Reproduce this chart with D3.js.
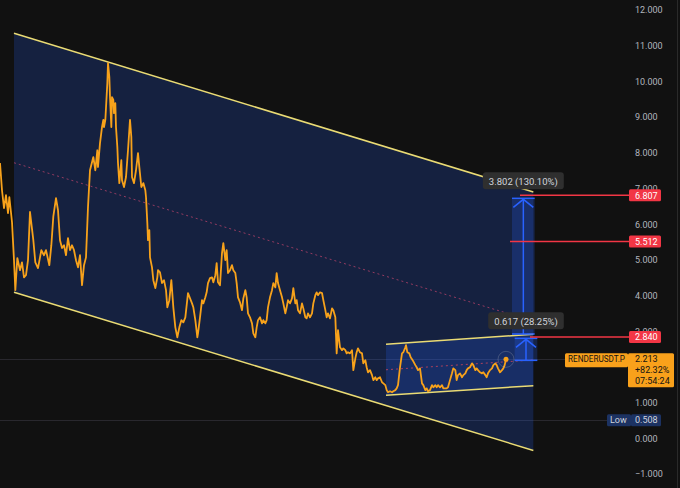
<!DOCTYPE html>
<html>
<head>
<meta charset="utf-8">
<script src="https://cdn.jsdelivr.net/npm/d3@7"></script>
<style>
  html, body { margin: 0; padding: 0; background: #111111; }
  svg { display: block; }
  text { font-family: Roboto, "Noto Sans", sans-serif; }
</style>
</head>
<body>
<div id="chart"></div>
<script>
// RENDERUSDT.P closes, [bar index, price]
const priceSeries = [
  [0,7.71],[3,6.95],[6,6.45],[9,6.81],[12,6.31],[14,6.76],[18,6.06],[21,4.99],[23,4.15],[26,5.05],[30,4.71],[33,4.93],[36,4.51],[39,4.57],[42,4.99],[45,6.34],[50,5.55],[53,4.93],[57,4.77],[62,5.27],[66,5.13],[69,5.27],[74,4.85],[77,5.41],[80,6.22],[84,6.73],[87,6.39],[90,5.55],[93,5.33],[96,5.41],[99,5.13],[102,5.61],[105,5.27],[108,5.41],[111,5.27],[114,4.99],[117,4.79],[120,5.13],[123,4.29],[126,4.85],[129,5.07],[132,6.48],
  [135,7.51],[140,7.88],[143,7.51],[146,8.07],[147,7.60],[150,8.27],[153,8.72],[155,8.92],[156,8.72],[158,8.92],[161,9.95],[162,10.51],[164,10.12],[165,9.56],[167,8.72],[168,9.56],[170,9.48],[171,9.11],[173,9.39],[174,8.72],[176,8.16],[177,7.71],[179,7.15],[182,7.79],[183,7.23],[186,7.04],[189,7.32],[192,8.07],[195,8.92],[197,8.44],[198,7.32],[201,7.15],[204,7.51],[207,7.99],[209,7.60],[212,7.04],[215,7.15],[218,6.95],[219,6.76],
  [221,6.03],[222,5.55],[224,5.83],[225,5.07],[228,4.79],[230,4.43],[233,4.21],[236,4.51],[237,4.71],[240,4.65],[243,4.35],[246,4.43],[249,4.15],[251,3.67],[254,3.87],[257,4.43],[260,3.67],[263,3.11],[266,2.83],[269,3.11],[272,3.31],[275,3.25],[278,3.39],[282,4.07],[288,3.78],[290,3.67],[293,3.31],[296,2.83],[297,2.94],[300,3.39],
  [303,3.87],[305,3.78],[308,3.95],[310,4.09],[312,4.35],[315,4.49],[318,4.51],[320,4.37],[323,4.57],[325,4.91],[327,4.37],[330,4.29],[333,5.19],[335,5.47],[338,4.99],[340,5.27],[342,4.63],[345,4.71],[348,4.85],[350,4.71],[353,4.63],[355,4.35],[357,3.95],[360,3.81],[363,3.59],[365,3.92],[368,4.15],[370,3.95],[372,3.50],[375,3.39],[378,3.22],[380,2.94],[383,2.83],[385,3.11],[387,3.31],[390,3.39],[393,3.22],[395,3.31],[398,3.22],[400,3.31],[402,3.67],[405,3.95],[408,4.15],[410,4.35],[413,4.23],[415,4.63],[417,4.35],[420,4.15],[423,3.95],[425,3.78],[428,3.50],[430,3.67],[432,3.87],[435,3.78],[438,3.92],[440,4.21],[443,3.78],[445,3.87],[447,3.59],[450,3.50],[453,3.78],[455,3.64],[458,3.39],[460,3.36],[462,3.50],[465,3.39],[468,3.50],[470,3.78],[473,4.01],[475,4.09],[477,4.01],[480,4.09],[483,4.07],[485,3.87],[488,3.59],[490,3.39],[492,3.50],[495,3.36],[498,3.64],[500,3.59],[503,3.39],
  [505,2.38],[507,3.03],[510,2.55],[513,2.47],[515,2.52],[518,2.47],[520,2.38],[522,2.41],[525,2.38],[528,2.47],[530,1.91],[533,2.24],[535,2.41],[537,2.52],[540,2.41],[543,2.38],[545,2.10],[548,2.19],[550,1.99],[552,1.85],[555,1.91],[558,1.77],[560,1.63],[563,1.71],[565,1.63],[567,1.68],[570,1.71],[573,1.57],[575,1.54],[578,1.49],[580,1.35],[582,1.29],[585,1.32],[588,1.29],[590,1.32],[593,1.35],[595,1.40],[597,1.49],[600,1.99],[603,2.38],[605,2.41],[608,2.55],[609,2.61],[611,2.41],[614,2.38],[616,2.27],[619,2.19],[623,2.05],[625,1.99],[627,1.91],[630,1.96],[633,1.54],[635,1.49],[638,1.35],[640,1.40],[642,1.32],[645,1.35],[648,1.49],[650,1.43],[653,1.49],[655,1.43],[657,1.49],[660,1.43],[663,1.49],[665,1.40],[668,1.40],[670,1.40],[672,1.43],[675,1.63],[678,1.82],[680,1.96],[683,1.91],[685,1.63],[687,1.77],[690,1.82],[693,1.71],[695,1.77],[698,1.82],[700,1.91],[702,1.96],[705,1.99],[708,2.10],[710,2.05],[713,1.91],[715,1.96],[717,1.91],[720,1.85],[723,1.82],[725,1.85],[728,1.77],[730,1.71],[732,1.82],[735,1.91],[738,1.96],[740,2.05],[743,2.10],[745,2.05],[747,1.96],[750,1.85],[753,1.91],[755,1.96],[757,2.05],[759,2.213]
];

const priceTicks = d3.range(-1, 13);

// descending channel: [start bar, end bar], prices at each end
const channelBars = [21, 800];
const channelTop = [11.35, 6.90];
const channelBottom = [4.09, -0.34];

// small rising range
const boxBars = [579, 800];
const boxTop = [2.635, 2.916];
const boxBottom = [1.206, 1.474];

// price range tools
const ranges = [
  {from: 768, to: 802, low: 2.922, high: 6.724, label: "3.802 (130.10%)"},
  {from: 772, to: 806, low: 2.184, high: 2.801, label: "0.617 (28.25%)"}
];

// horizontal alert lines
const alertPrices = [6.807, 5.512, 2.840];
const alertStarts = [780, 765, 795];

const symbol = "RENDERUSDT.P";
const lastPrice = 2.213;
const lastChange = "+82.32%";
const countdown = "07:54:24";
const lowPrice = 0.508;

const W = 680, H = 488;
const scaleLeft = 629;   // where price-scale tags start
const scaleText = 635;   // left edge of price-scale text

const x = d3.scaleLinear().domain([0, 840]).range([0, 560]);
const y = d3.scaleLinear().domain([-1, 12]).range([474, 10]);

const svg = d3.select("#chart").append("svg")
  .attr("width", W).attr("height", H);

svg.append("rect").attr("width", W).attr("height", H).attr("fill", "#111111");

// faint lines for last price and low
[lastPrice, lowPrice].forEach(p => {
  svg.append("line")
    .attr("x1", 0).attr("x2", scaleLeft)
    .attr("y1", Math.round(y(p)) + 0.5).attr("y2", Math.round(y(p)) + 0.5)
    .attr("stroke", "#29282e").attr("stroke-width", 1);
});

function band(bars, top, bottom) {
  return [[x(bars[0]), y(top[0])], [x(bars[1]), y(top[1])],
          [x(bars[1]), y(bottom[1])], [x(bars[0]), y(bottom[0])]];
}
const poly = d3.line();

svg.append("path")
  .attr("d", poly(band(channelBars, channelTop, channelBottom)) + "Z")
  .attr("fill", "rgba(41,98,255,0.2)");

svg.append("path")
  .attr("d", poly(band(boxBars, boxTop, boxBottom)) + "Z")
  .attr("fill", "rgba(41,98,255,0.2)");

// range tool backgrounds
ranges.forEach(r => {
  svg.append("rect")
    .attr("x", x(r.from)).attr("width", x(r.to) - x(r.from))
    .attr("y", y(r.high)).attr("height", y(r.low) - y(r.high))
    .attr("fill", "rgba(41,98,255,0.22)");
});

// channel borders and mid lines
function edge(bars, vals, stroke, width, dash) {
  svg.append("line")
    .attr("x1", x(bars[0])).attr("y1", y(vals[0]))
    .attr("x2", x(bars[1])).attr("y2", y(vals[1]))
    .attr("stroke", stroke).attr("stroke-width", width)
    .attr("stroke-dasharray", dash || null);
}
const yellow = "#eadb74";
edge(channelBars, channelTop, yellow, 1.5);
edge(channelBars, channelBottom, yellow, 1.5);
edge(channelBars, [(channelTop[0] + channelBottom[0]) / 2, (channelTop[1] + channelBottom[1]) / 2],
     "rgba(200,70,110,0.7)", 1, "2,3");
edge(boxBars, boxTop, yellow, 1.5);
edge(boxBars, boxBottom, yellow, 1.5);
edge(boxBars, [(boxTop[0] + boxBottom[0]) / 2, (boxTop[1] + boxBottom[1]) / 2],
     "rgba(220,70,90,0.75)", 1, "2,3");

// price line
svg.append("path")
  .datum(priceSeries)
  .attr("d", d3.line().x(d => x(d[0])).y(d => y(d[1])))
  .attr("fill", "none")
  .attr("stroke", "#f7a21b")
  .attr("stroke-width", 1.8)
  .attr("stroke-linejoin", "round");

const last = priceSeries[priceSeries.length - 1];
svg.append("circle")
  .attr("cx", x(last[0])).attr("cy", y(last[1])).attr("r", 8)
  .attr("fill", "none").attr("stroke", "rgba(190,190,190,0.25)");
svg.append("circle")
  .attr("cx", x(last[0])).attr("cy", y(last[1])).attr("r", 2.5)
  .attr("fill", "#f7a21b");

// range tool lines, arrows and labels
const blue = "#2962ff";
ranges.forEach(r => {
  const x0 = x(r.from), x1 = x(r.to), xm = (x0 + x1) / 2;
  const yt = y(r.high), yb = y(r.low);
  [yt, yb].forEach(v => {
    svg.append("line").attr("x1", x0).attr("x2", x1).attr("y1", v).attr("y2", v)
      .attr("stroke", blue).attr("stroke-width", 1.5);
  });
  svg.append("line").attr("x1", xm).attr("x2", xm).attr("y1", yt).attr("y2", yb)
    .attr("stroke", blue).attr("stroke-width", 1.5);
  svg.append("path")
    .attr("d", `M${xm - 10},${yt + 9}L${xm},${yt + 1}L${xm + 10},${yt + 9}`)
    .attr("fill", "none").attr("stroke", blue).attr("stroke-width", 1.5);

  const g = svg.append("g");
  const t = g.append("text")
    .attr("x", xm).attr("y", yt - 17)
    .attr("text-anchor", "middle").attr("dy", "0.35em")
    .attr("fill", "#d1d4dc").style("font-size", "9.5px")
    .text(r.label);
  const tw = t.node().getComputedTextLength();
  g.insert("rect", "text")
    .attr("x", xm - tw / 2 - 6).attr("width", tw + 12)
    .attr("y", yt - 26).attr("height", 17).attr("rx", 3)
    .attr("fill", "#2f2f2f");
});

// alert lines
alertPrices.forEach((p, i) => {
  svg.append("line")
    .attr("x1", x(alertStarts[i])).attr("x2", scaleLeft)
    .attr("y1", y(p)).attr("y2", y(p))
    .attr("stroke", "#f23645").attr("stroke-width", 1.5);
});

// price scale
svg.append("line").attr("x1", 677.5).attr("x2", 677.5).attr("y1", 0).attr("y2", H)
  .attr("stroke", "#2a2a2a");

// tick labels that sit fully under a tag are not shown
const covered = priceTicks.filter(t => Math.abs(y(t) - y(lastPrice)) < 12);

svg.append("g")
  .attr("transform", `translate(${scaleText},0)`)
  .call(d3.axisRight(y).tickValues(priceTicks.filter(t => !covered.includes(t)))
    .tickSize(0).tickPadding(0).tickFormat(d3.format(".3f")))
  .call(g => g.select(".domain").remove())
  .selectAll("text")
  .attr("fill", "#b2b5be")
  .style("font-size", "9px")
  .style("font-family", "Roboto, 'Noto Sans', sans-serif");

function tag(x0, w, yc, h, fill, lines, color, tx, fit) {
  const g = svg.append("g");
  g.append("rect").attr("x", x0).attr("width", w)
    .attr("y", yc - 6).attr("height", h).attr("rx", 1.5).attr("fill", fill);
  lines.forEach((s, i) => {
    const t = g.append("text").attr("x", tx).attr("y", yc + i * 11).attr("dy", "0.35em")
      .attr("fill", color).style("font-size", "9px").text(s);
    if (fit) t.attr("textLength", fit).attr("lengthAdjust", "spacingAndGlyphs");
  });
}

alertPrices.forEach(p => {
  tag(scaleLeft, 32, y(p), 12, "#f23645", [d3.format(".3f")(p)], "#ffffff", scaleText);
});

const ly = y(lastPrice);
tag(565, 63, ly, 14, "#f9a11b", [symbol], "#131313", 568, 57);
tag(628, 46, ly, 34, "#f9a11b", [d3.format(".3f")(lastPrice), lastChange, countdown], "#131313", scaleText);

const lowY = y(lowPrice);
tag(607, 24, lowY, 12, "#1c3262", ["Low"], "#d1d4dc", 610);
tag(631, 30, lowY, 12, "#1c3262", [d3.format(".3f")(lowPrice)], "#d1d4dc", scaleText);
</script>
</body>
</html>
